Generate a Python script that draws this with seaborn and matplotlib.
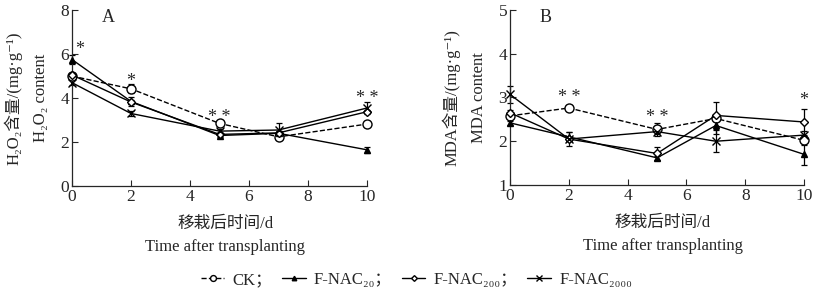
import matplotlib
matplotlib.use('agg')
import matplotlib.pyplot as plt
import numpy as np
import pandas as pd
import seaborn as sns

days = [0, 2, 5, 7, 10]
groups = ['CK', 'F-NAC₂₀', 'F-NAC₂₀₀', 'F-NAC₂₀₀₀']

# panel A: H2O2 content
h2o2 = {
    'CK':        [5.00, 4.42, 2.85, 2.24, 2.82],
    'F-NAC₂₀':   [5.75, 3.85, 2.30, 2.40, 1.65],
    'F-NAC₂₀₀':  [5.05, 3.82, 2.35, 2.42, 3.38],
    'F-NAC₂₀₀₀': [4.70, 3.30, 2.50, 2.55, 3.55],
}
h2o2_err = {
    'CK':        [0.12, 0.20, 0.08, 0.08, 0.08],
    'F-NAC₂₀':   [0.20, 0.20, 0.08, 0.10, 0.15],
    'F-NAC₂₀₀':  [0.10, 0.10, 0.08, 0.10, 0.10],
    'F-NAC₂₀₀₀': [0.10, 0.10, 0.08, 0.30, 0.25],
}
h2o2_sig = ['*', '*', '* *', '', '* *']
h2o2_sig_x = [0.25, 2, 5, 7, 10]
h2o2_sig_y = [6.2, 4.75, 3.1, 0, 4.0]

# panel B: MDA content
mda = {
    'CK':        [2.58, 2.76, 2.27, 2.52, 2.02],
    'F-NAC₂₀':   [2.42, 2.10, 1.62, 2.36, 1.70],
    'F-NAC₂₀₀':  [2.65, 2.05, 1.72, 2.59, 2.44],
    'F-NAC₂₀₀₀': [3.07, 2.05, 2.22, 2.00, 2.14],
}
mda_err = {
    'CK':        [0.06, 0.07, 0.15, 0.06, 0.10],
    'F-NAC₂₀':   [0.05, 0.10, 0.05, 0.20, 0.25],
    'F-NAC₂₀₀':  [0.06, 0.05, 0.15, 0.30, 0.30],
    'F-NAC₂₀₀₀': [0.20, 0.15, 0.05, 0.25, 0.10],
}
mda_sig = ['', '* *', '* *', '', '*']
mda_sig_x = [0, 2, 5, 7, 10]
mda_sig_y = [0, 3.0, 2.55, 0, 2.92]

styles = {
    'CK':        dict(marker='o', ms=6.5, mfc='white', ls='--'),
    'F-NAC₂₀':   dict(marker='^', ms=5, mfc='black', ls='-'),
    'F-NAC₂₀₀':  dict(marker='D', ms=4.5, mfc='white', ls='-'),
    'F-NAC₂₀₀₀': dict(marker='x', ms=6, mfc='black', ls='-'),
}

sns.set_style('ticks')
plt.rcParams['font.family'] = ['Liberation Serif', 'Noto Sans CJK SC', 'DejaVu Serif']
plt.rcParams['xtick.direction'] = 'in'
plt.rcParams['ytick.direction'] = 'in'

fig = plt.figure(figsize=(8.23, 2.95), dpi=100)
axA = fig.add_axes([0.0875, 0.369, 0.3585, 0.597])
axB = fig.add_axes([0.6197, 0.373, 0.3573, 0.593])


def draw_panel(ax, values, errs, sig, sig_x, sig_y, ylim, yticks, ylab, letter):
    df = pd.DataFrame([(g, d, v) for g in groups for d, v in zip(days, values[g])],
                      columns=['group', 'day', 'value'])
    for g in groups:
        st = styles[g]
        sub = df[df['group'] == g]
        sns.lineplot(data=sub, x='day', y='value', ax=ax, color='black', lw=1,
                     marker=st['marker'], markersize=st['ms'],
                     markerfacecolor=st['mfc'], markeredgecolor='black',
                     markeredgewidth=1, linestyle=st['ls'], label=g, legend=False,
                     clip_on=False, zorder=3)
        ax.errorbar(days, values[g], yerr=errs[g], fmt='none', ecolor='black',
                    elinewidth=0.9, capsize=2.5, capthick=0.9, clip_on=False, zorder=2)
    for x, s, y in zip(sig_x, sig, sig_y):
        if s:
            ax.text(x, y, s, ha='center', va='center', fontsize=13)
    ax.set_xlim(0, 10)
    ax.set_ylim(*ylim)
    ax.set_xticks([0, 2, 4, 6, 8, 10])
    ax.set_yticks(yticks)
    ax.tick_params(labelsize=12.5, length=4, width=0.8, pad=2)
    sns.despine(ax=ax)
    for sp in ax.spines.values():
        sp.set_linewidth(0.9)
    ax.set_xlabel('移栽后时间/d\nTime after transplanting', fontsize=12, linespacing=1.6)
    ax.xaxis.set_label_coords(0.52, -0.17, transform=ax.transAxes)
    ax.xaxis.label.set_va('top')
    ax.set_ylabel(ylab, fontsize=12, linespacing=1.85)
    ax.yaxis.set_label_coords(-0.155, 0.5, transform=ax.transAxes)
    ax.yaxis.label.set_va('center')
    ax.text(0.122, 0.955, letter, transform=ax.transAxes, fontsize=13, ha='center', va='center')


draw_panel(axA, h2o2, h2o2_err, h2o2_sig, h2o2_sig_x, h2o2_sig_y, (0, 8), [0, 2, 4, 6, 8],
           'H₂O₂含量/(mg·g⁻¹)\nH₂O₂ content', 'A')
draw_panel(axB, mda, mda_err, mda_sig, mda_sig_x, mda_sig_y, (1, 5), [1, 2, 3, 4, 5],
           'MDA含量/(mg·g⁻¹)\nMDA content', 'B')

handles, labels = axA.get_legend_handles_labels()
labels = [l + '；' if i < 3 else l for i, l in enumerate(labels)]
fig.legend(handles, labels, loc='center', bbox_to_anchor=(0.506, 0.05), ncol=4,
           frameon=False, fontsize=12, handlelength=1.4, columnspacing=0.6,
           handletextpad=0.5, markerscale=0.65)

fig.savefig('out.png', dpi=100)
